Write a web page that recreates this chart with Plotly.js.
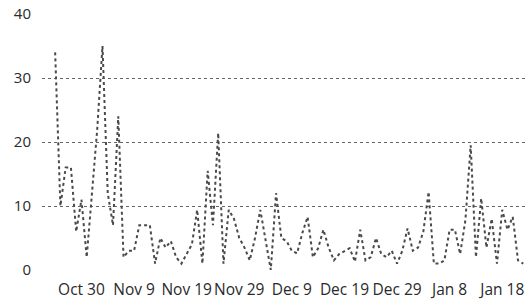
<!DOCTYPE html>
<html>
<head>
<meta charset="utf-8">
<script src="https://cdn.plot.ly/plotly-3.0.1.min.js"></script>
<style>html,body{margin:0;padding:0;background:#fff;}#chart{width:530px;height:302px;}</style>
</head>
<body>
<div id="chart"></div>
<script>
// Daily series starting Oct 25
const startDate = '2018-10-25';
const values = [
  34, 10, 16, 16, 6, 11, 2, 12, 22, 35,
  12, 7, 24, 2, 3, 3, 7, 7, 7, 1,
  5, 3.5, 4.5, 2, 1, 2.5, 4, 9.4, 1, 15.5,
  7, 21.4, 1, 9.4, 8, 5, 3.5, 1.5, 5, 9.4,
  5, 0, 12, 5, 4.5, 3, 2.6, 5.8, 8.3, 2,
  3.4, 6.3, 3.5, 1.5, 2.5, 3, 3.4, 1.3, 6.3, 1.5,
  2, 5, 2.5, 2, 3, 1, 3, 6.5, 3, 3.5,
  6, 12.2, 1, 1, 1.5, 6.3, 6.3, 2.5, 7.8, 19.5,
  2, 11.2, 3.5, 8, 1, 9.4, 6.3, 8.3, 1.5, 1
];
const yTicks = [0, 10, 20, 30, 40];
const xTick0 = '2018-10-30';
const xRange = ['2018-10-22T12:00', '2019-01-22T17:00'];

const DAY = 86400000;
const t0 = new Date(startDate + 'T00:00:00Z').getTime();
const dates = values.map((_, i) => new Date(t0 + i * DAY).toISOString().slice(0, 10));

const trace = {
  x: dates, y: values, type: 'scatter', mode: 'lines',
  line: {color: '#4a4a4a', width: 2, dash: 'dot'},
  hoverinfo: 'skip'
};

const layout = {
  width: 530, height: 302,
  margin: {l: 42, r: 3, t: 14, b: 32},
  paper_bgcolor: '#fff', plot_bgcolor: '#fff',
  showlegend: false,
  font: {family: 'Open Sans, sans-serif', color: '#333'},
  xaxis: {
    type: 'date', range: xRange, tick0: xTick0, dtick: 10 * DAY,
    tickformat: '%b %-d', tickangle: 0, showgrid: false, zeroline: false, showline: false,
    ticks: '', tickfont: {size: 15.5, color: '#2a2a2a'}, ticklabelstandoff: 8
  },
  yaxis: {
    range: [0, 40], tickvals: yTicks, showgrid: true, gridcolor: '#666',
    griddash: 'dot', gridwidth: 1, zeroline: false, showline: false, ticks: '',
    tickfont: {size: 15, color: '#2a2a2a'}, ticklabelstandoff: 10
  }
};

Plotly.newPlot('chart', [trace], layout, {staticPlot: true, displayModeBar: false});
</script>
</body>
</html>
